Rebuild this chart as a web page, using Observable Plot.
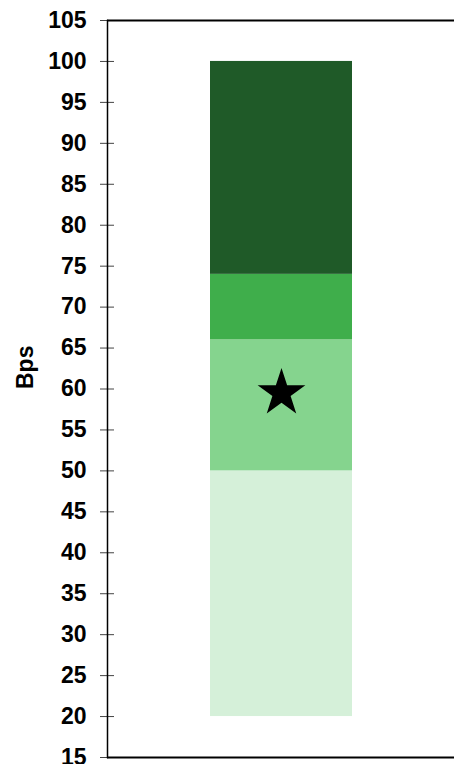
<!DOCTYPE html>
<html>
<head>
<meta charset="utf-8">
<script src="https://cdn.jsdelivr.net/npm/d3@7"></script>
<script src="https://cdn.jsdelivr.net/npm/@observablehq/plot@0.6"></script>
<style>
  html, body { margin: 0; padding: 0; background: #fff; }
  svg { display: block; }
</style>
</head>
<body>
<div id="chart"></div>
<script>
const category = ["Bps"];
const bandLow  = [20, 50, 66, 74];
const bandHigh = [50, 66, 74, 100];
const bandColors = ["#d5f0d9", "#85d48e", "#3fae4b", "#1f5a28"];
const markerValue = [59.5];
const yTicks = [15, 20, 25, 30, 35, 40, 45, 50, 55, 60, 65, 70, 75, 80, 85, 90, 95, 100, 105];

const bands = bandLow.map((lo, i) => ({cat: category[0], lo, hi: bandHigh[i], color: bandColors[i]}));
const marker = markerValue.map(v => ({cat: category[0], v}));

const chart = Plot.plot({
  width: 454,
  height: 764,
  marginLeft: 107,
  marginRight: 0,
  marginTop: 20,
  marginBottom: 7,
  style: {fontFamily: "'Liberation Sans', Arial, sans-serif", background: "#fff"},
  x: {domain: category, padding: 0.42, axis: null},
  y: {domain: [15, 105], ticks: yTicks, label: null},
  marks: [
    Plot.barY(bands, {x: "cat", y1: "lo", y2: "hi", fill: "color"}),
    Plot.dot(marker, {x: "cat", y: "v", symbol: "star", r: 15, fill: "black", stroke: "none"}),
    Plot.axisY({ticks: yTicks, tickSize: 14, dx: 7, tickPadding: 14, stroke: "#444", fontSize: 23, fontWeight: "bold", fill: "black", label: null}),
    Plot.ruleY([105, 15], {stroke: "black", strokeWidth: 2}),
    Plot.frame({anchor: "left", stroke: "black", strokeWidth: 1.5}),
    Plot.text(category, {frameAnchor: "left", dx: -82, rotate: -90, text: d => d, fontSize: 23, fontWeight: "bold", fill: "black"})
  ]
});
document.getElementById("chart").append(chart);
</script>
</body>
</html>
